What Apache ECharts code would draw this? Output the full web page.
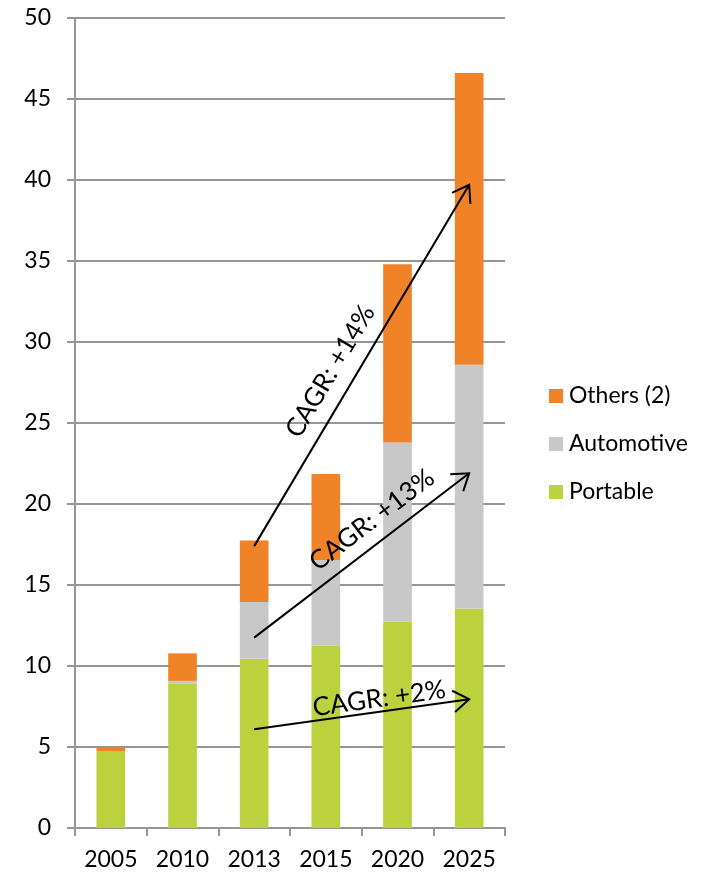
<!DOCTYPE html>
<html>
<head>
<meta charset="utf-8">
<script src="https://cdn.jsdelivr.net/npm/echarts@6/dist/echarts.min.js"></script>
<style>
html,body{margin:0;padding:0;background:#fff;}
#c{width:714px;height:873px;}
</style>
</head>
<body>
<div id="c"></div>
<script>
var categories = ['2005', '2010', '2013', '2015', '2020', '2025'];
var portable   = [4.75, 8.9, 10.45, 11.25, 12.75, 13.55];
var automotive = [0, 0.18, 3.5, 5.3, 11.05, 15.05];
var others     = [0.2, 1.7, 3.8, 5.3, 11.0, 18.0];
var yTicks = { min: 0, max: 50, interval: 5 };

// CAGR annotations: arrow start/end in data space (category index, value)
var cagrLabels = ['CAGR: +14%', 'CAGR: +13%', 'CAGR: +2%'];
var cagrFrom   = [[2, 17.4], [2, 11.75], [2, 6.1]];
var cagrTo     = [[5, 39.7], [5, 21.9], [5, 7.95]];

var FONT = 'Lato, "Open Sans", sans-serif';
var GRID_COLOR = '#969696';

var chart = echarts.init(document.getElementById('c'), null, { renderer: 'canvas' });

chart.setOption({
  animation: false,
  backgroundColor: '#ffffff',
  textStyle: { fontFamily: FONT, color: '#000' },
  grid: { left: 75, right: 209, top: 18, bottom: 45, containLabel: false },
  legend: {
    orient: 'vertical',
    left: 544,
    top: 379,
    itemWidth: 14,
    itemHeight: 14,
    itemGap: 24,
    icon: 'rect',
    data: ['Others (2)', 'Automotive', 'Portable'],
    textStyle: { fontFamily: FONT, fontSize: 23, color: '#000', lineHeight: 24, padding: [0, 0, 0, 1] }
  },
  xAxis: {
    type: 'category',
    data: categories,
    boundaryGap: true,
    axisLine: { show: true, lineStyle: { color: GRID_COLOR, width: 2 } },
    axisTick: { show: true, length: 8, alignWithLabel: false, interval: 0, lineStyle: { color: GRID_COLOR, width: 2 } },
    axisLabel: { fontFamily: FONT, fontSize: 23, color: '#000', margin: 20 },
    splitLine: { show: false }
  },
  yAxis: {
    type: 'value',
    min: yTicks.min,
    max: yTicks.max,
    interval: yTicks.interval,
    axisLine: { show: true, lineStyle: { color: GRID_COLOR, width: 2 } },
    axisTick: { show: true, length: 8, lineStyle: { color: GRID_COLOR, width: 2 } },
    axisLabel: { fontFamily: FONT, fontSize: 23, color: '#000', margin: 24 },
    splitLine: { show: true, lineStyle: { color: GRID_COLOR, width: 2 } }
  },
  series: [
    { name: 'Portable', type: 'bar', stack: 'total', barWidth: '40%', data: portable, itemStyle: { color: '#BBD23E' } },
    { name: 'Automotive', type: 'bar', stack: 'total', barWidth: '40%', data: automotive, itemStyle: { color: '#C8C8C8' } },
    { name: 'Others (2)', type: 'bar', stack: 'total', barWidth: '40%', data: others, itemStyle: { color: '#F08228' } }
  ]
});

// Build arrow annotations from data coordinates
var labelAlong   = [0.45, 0.61, 0.59];
var labelOffsets = [24, 22, 13];
var graphics = [];
for (var i = 0; i < cagrLabels.length; i++) {
  var p0 = chart.convertToPixel({ xAxisIndex: 0, yAxisIndex: 0 }, cagrFrom[i]);
  var p1 = chart.convertToPixel({ xAxisIndex: 0, yAxisIndex: 0 }, cagrTo[i]);
  var dx = p1[0] - p0[0], dy = p1[1] - p0[1];
  var len = Math.sqrt(dx * dx + dy * dy);
  var ux = dx / len, uy = dy / len;
  var ang = Math.atan2(dy, dx);
  graphics.push({
    type: 'line', z: 100,
    shape: { x1: p0[0], y1: p0[1], x2: p1[0], y2: p1[1] },
    style: { stroke: '#000', lineWidth: 2 }
  });
  var headLen = 19, half = 0.6;
  var a1 = ang + Math.PI - half, a2 = ang + Math.PI + half;
  graphics.push({
    type: 'polyline', z: 100,
    shape: { points: [
      [p1[0] + headLen * Math.cos(a1), p1[1] + headLen * Math.sin(a1)],
      [p1[0], p1[1]],
      [p1[0] + headLen * Math.cos(a2), p1[1] + headLen * Math.sin(a2)]
    ] },
    style: { stroke: '#000', fill: null, lineWidth: 2 }
  });
  var t = labelAlong[i];
  var mx = p0[0] + dx * t, my = p0[1] + dy * t;
  var nx = uy, ny = -ux; // normal pointing up-left
  var off = labelOffsets[i];
  graphics.push({
    type: 'text', z: 101,
    x: mx + nx * off, y: my + ny * off,
    rotation: -ang,
    style: {
      text: cagrLabels[i],
      fontFamily: FONT, fontSize: 26, fill: '#000',
      align: 'center', verticalAlign: 'middle'
    }
  });
}
chart.setOption({ graphic: graphics });
</script>
</body>
</html>
